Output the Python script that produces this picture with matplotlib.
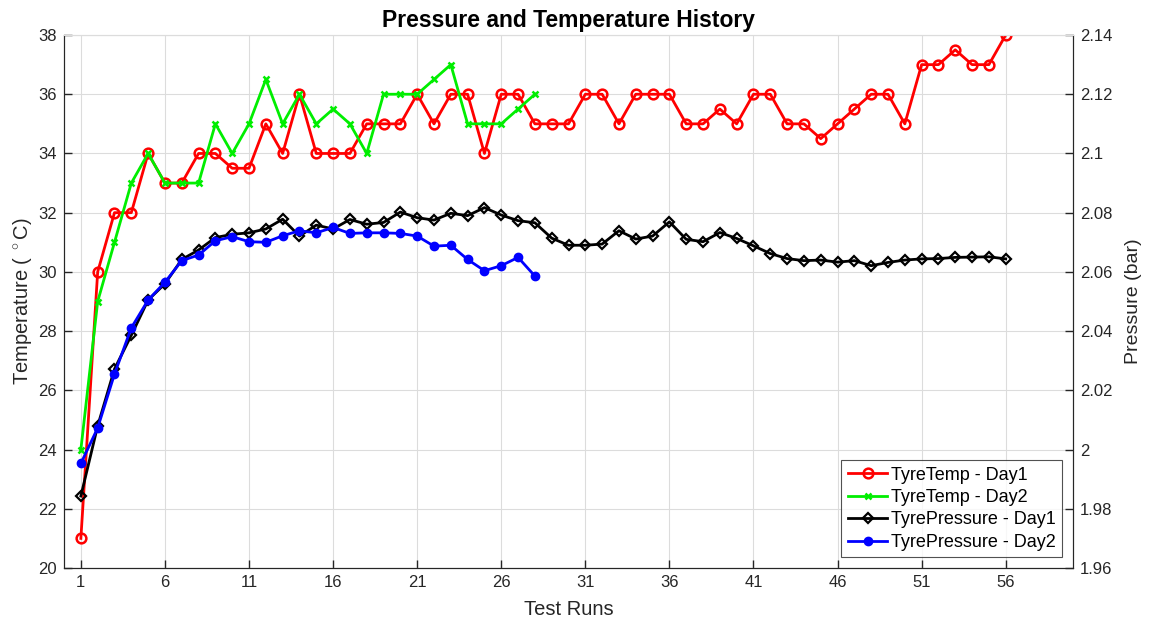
import matplotlib
matplotlib.use("Agg")
import matplotlib.pyplot as plt

plt.rcParams['font.family'] = ['Liberation Sans', 'DejaVu Sans']
plt.rcParams['mathtext.fontset'] = 'custom'
plt.rcParams['mathtext.rm'] = 'Liberation Sans'
plt.rcParams['mathtext.it'] = 'Liberation Sans'

# data
runs_day1 = list(range(1, 57))
runs_day2 = list(range(1, 29))

temp_day1 = [21, 30, 32, 32, 34, 33, 33, 34, 34, 33.5, 33.5, 35, 34, 36, 34, 34,
             34, 35, 35, 35, 36, 35, 36, 36, 34, 36, 36, 35, 35, 35, 36, 36,
             35, 36, 36, 36, 35, 35, 35.5, 35, 36, 36, 35, 35, 34.5, 35, 35.5, 36,
             36, 35, 37, 37, 37.5, 37, 37, 38]
temp_day2 = [24, 29, 31, 33, 34, 33, 33, 33, 35, 34, 35, 36.5, 35, 36, 35, 35.5,
             35, 34, 36, 36, 36, 36.5, 37, 35, 35, 35, 35.5, 36]

press_day1 = [1.9843, 2.0080, 2.0272, 2.0386, 2.0505, 2.0560, 2.0642, 2.0674, 2.0716,
              2.0727, 2.0732, 2.0745, 2.0778, 2.0721, 2.0758, 2.0745, 2.0777, 2.0761,
              2.0767, 2.0802, 2.0783, 2.0775, 2.0798, 2.0790, 2.0817, 2.0792, 2.0773,
              2.0766, 2.0714, 2.0690, 2.0690, 2.0694, 2.0739, 2.0711, 2.0721, 2.0769,
              2.0710, 2.0702, 2.0733, 2.0713, 2.0688, 2.0662, 2.0645, 2.0638, 2.0640,
              2.0633, 2.0638, 2.0621, 2.0632, 2.0640, 2.0644, 2.0645, 2.0649, 2.0650,
              2.0651, 2.0644]
press_day2 = [1.9953, 2.0073, 2.0255, 2.0411, 2.0505, 2.0565, 2.0638, 2.0657, 2.0705,
              2.0719, 2.0702, 2.0700, 2.0722, 2.0739, 2.0732, 2.0750, 2.0730, 2.0732,
              2.0732, 2.0730, 2.0721, 2.0687, 2.0690, 2.0642, 2.0604, 2.0621, 2.0649,
              2.0586]

xticks = list(range(1, 57, 5))

fig = plt.figure(figsize=(11.52, 6.22), dpi=100)
ax = fig.add_axes([0.0556, 0.0868, 0.8758, 0.8569])
ax2 = ax.twinx()

l1, = ax.plot(runs_day1, temp_day1, color='#ff0000', lw=2, marker='o', ms=7,
              mfc='none', mew=1.8, label='TyreTemp - Day1')
l2, = ax.plot(runs_day2, temp_day2, color='#00ee00', lw=2, marker='x', ms=5,
              mew=1.8, label='TyreTemp - Day2')
l3, = ax2.plot(runs_day1, press_day1, color='black', lw=2, marker='D', ms=5.5,
               mfc='none', mew=1.6, label='TyrePressure - Day1')
l4, = ax2.plot(runs_day2, press_day2, color='#0000ff', lw=2, marker='o', ms=6,
               label='TyrePressure - Day2')

ax.set_xlim(0, 60)
ax.set_ylim(20, 38)
ax2.set_ylim(1.96, 2.14)
ax.set_xticks(xticks)
ax.set_yticks(range(20, 39, 2))
ax2.set_yticks([1.96 + 0.02 * i for i in range(10)])
ax2.yaxis.set_major_formatter(plt.FuncFormatter(lambda v, p: '%g' % round(v, 2)))

ax.grid(True, color='#dcdcdc', lw=0.8)
ax.set_axisbelow(True)

tc = '#262626'
for a in (ax, ax2):
    a.tick_params(direction='in', length=6, width=1, colors=tc, labelsize=12, pad=5)
    for s in a.spines.values():
        s.set_color(tc)
    a.spines['top'].set_color('#dcdcdc')

ax.set_xlabel('Test Runs', fontsize=14.5, color=tc, labelpad=7)
ax.set_ylabel('Temperature ( $^\\circ$C)', fontsize=14.5, color=tc, labelpad=3)
ax2.set_ylabel('Pressure (bar)', fontsize=14, color=tc, labelpad=9)
ax.set_title('Pressure and Temperature History', fontsize=16.5, fontweight='bold',
             color='black', pad=6)

leg = ax2.legend(handles=[l1, l2, l3, l4], loc='lower right', fontsize=13,
                 frameon=True, fancybox=False, edgecolor='#262626',
                 borderpad=0.35, handlelength=2.2, handletextpad=0.2,
                 labelspacing=0.3, borderaxespad=0.6)
leg.get_frame().set_linewidth(0.8)

fig.savefig('out.png', dpi=100)
